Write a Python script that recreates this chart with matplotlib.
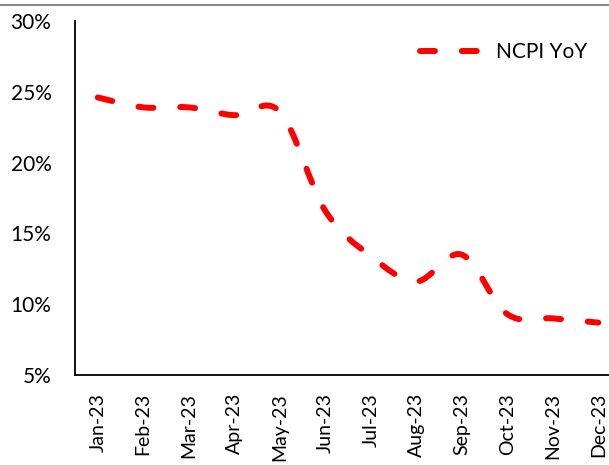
import numpy as np
import matplotlib
matplotlib.use("Agg")
import matplotlib.pyplot as plt
from matplotlib.path import Path
from matplotlib.patches import PathPatch
from matplotlib.lines import Line2D

# Veriler
aylar = ["Jan-23", "Feb-23", "Mar-23", "Apr-23", "May-23", "Jun-23",
         "Jul-23", "Aug-23", "Sep-23", "Oct-23", "Nov-23", "Dec-23"]
ncpi_yoy = [24.6, 23.9, 23.9, 23.35, 23.6, 16.6, 13.4, 11.6, 13.5, 9.3, 9.0, 8.7]
y_ticks = [5, 10, 15, 20, 25, 30]

plt.rcParams["font.family"] = ["Lato", "DejaVu Sans"]

W, H = 609, 465
fig = plt.figure(figsize=(W / 100, H / 100), dpi=100)
ax = fig.add_axes([75 / W, (H - 375) / H, 546 / W, 354 / H])

# Excel tarzı yumuşatılmış çizgi (kübik Bezier, Catmull-Rom kontrol noktaları)
x = np.arange(len(ncpi_yoy), dtype=float)
y = np.array(ncpi_yoy, dtype=float)
verts = [(x[0], y[0])]
codes = [Path.MOVETO]
n = len(x)
for i in range(n - 1):
    p0 = np.array([x[max(i - 1, 0)], y[max(i - 1, 0)]])
    p1 = np.array([x[i], y[i]])
    p2 = np.array([x[i + 1], y[i + 1]])
    p3 = np.array([x[min(i + 2, n - 1)], y[min(i + 2, n - 1)]])
    c1 = p1 + (p2 - p0) / 6
    c2 = p2 - (p3 - p1) / 6
    verts += [tuple(c1), tuple(c2), tuple(p2)]
    codes += [Path.CURVE4] * 3

lw = 4.3
dashes = (2.5, 4.5)
patch = PathPatch(Path(verts, codes), facecolor="none", edgecolor="#ff0000",
                  linewidth=lw, capstyle="round")
patch.set_linestyle((0, dashes))
ax.add_patch(patch)

ax.set_xlim(-0.5, 11.5)
ax.set_ylim(5, 30)
ax.set_xticks(x)
ax.set_xticklabels(aylar, rotation=90, fontsize=14)
ax.set_yticks(y_ticks)
ax.set_yticklabels([f"{t}%" for t in y_ticks], fontsize=15)
ax.tick_params(axis="both", length=0)
ax.tick_params(axis="y", pad=17)
ax.tick_params(axis="x", pad=13)

for s in ["top", "right"]:
    ax.spines[s].set_visible(False)
for s in ["left", "bottom"]:
    ax.spines[s].set_linewidth(1.3)
    ax.spines[s].set_color("black")

handle = Line2D([], [], color="#ff0000", linewidth=lw, dashes=dashes,
                dash_capstyle="round")
fig.legend([handle], ["NCPI YoY"], loc="center left",
           bbox_to_anchor=(420 / W, 1 - 52 / H), frameon=False, fontsize=15,
           handlelength=2.8, handletextpad=0.85, borderpad=0, borderaxespad=0)

# Üstteki gri çizgi
fig.add_artist(Line2D([0, 1], [1 - 5 / H, 1 - 5 / H], color="#888888",
                      linewidth=1.5, transform=fig.transFigure))

fig.savefig("out.png", dpi=100)
